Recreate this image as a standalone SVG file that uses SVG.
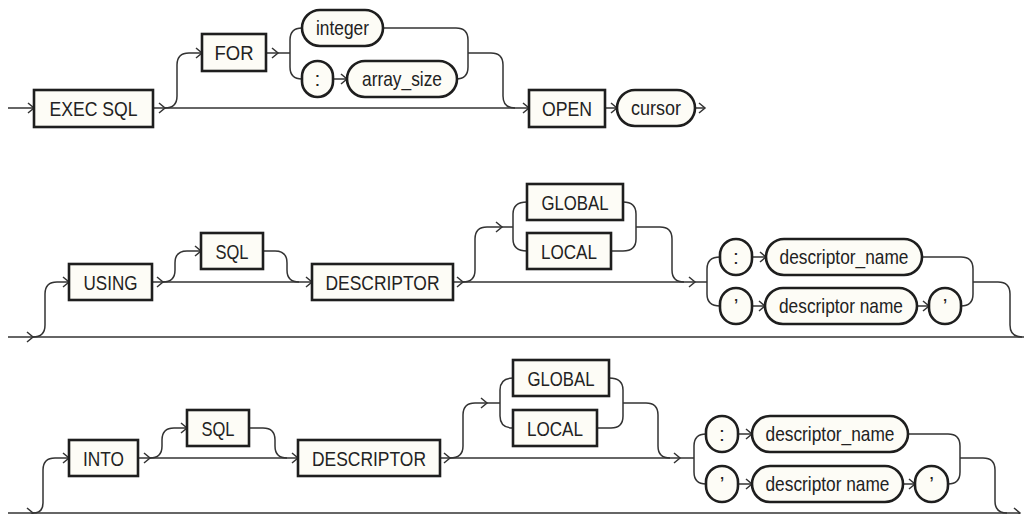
<svg xmlns="http://www.w3.org/2000/svg" xmlns:xlink="http://www.w3.org/1999/xlink" width="1024" height="514" viewBox="0 0 1024 514">
<style>
.b{fill:#fdfcf6;stroke:#1e1e1e;stroke-width:2.6}
.t{font-family:"Liberation Sans Narrow","Liberation Sans",Arial,sans-serif;font-size:21px;fill:#222;text-anchor:middle}
.c path{fill:none;stroke:#333;stroke-width:1.5}
.ch{fill:none;stroke:#333;stroke-width:1.5}
</style>
<defs>
<path id="ch" class="ch" d="M-6,-5 L0,0 L-6,5"/>
</defs>
<rect width="1024" height="514" fill="#ffffff"/>
<g class="c" id="connectors">
<!-- row 1 -->
<path d="M8,108 L34,108"/>
<path d="M153,108 L529,108"/>
<path d="M165,108 Q177,108 177,96 L177,65 Q177,53 189,53 L202,53"/>
<path d="M266,53 L290,53"/>
<path d="M302,28 Q290,28 290,40 L290,67 Q290,79 302,79"/>
<path d="M333,79 L347,79"/>
<path d="M383,28 L456,28 Q468,28 468,40 L468,67 Q468,79 456,79 L457,79"/>
<path d="M468,53 L491,53 Q503,53 503,65 L503,96 Q503,108 515,108"/>
<path d="M605,108 L617,108"/>
<path d="M695,108 L705,108"/>
<!-- row 2 -->
<path d="M8,337 L1024,337"/>
<path d="M33,337 Q45,337 45,325 L45,294 Q45,282 57,282 L69,282"/>
<path d="M152,282 L312,282"/>
<path d="M163,282 Q175,282 175,270 L175,263 Q175,251 187,251 L201,251"/>
<path d="M263,251 L275,251 Q287,251 287,263 L287,270 Q287,282 299,282"/>
<path d="M453,282 L707,282"/>
<path d="M463,282 Q475,282 475,270 L475,239 Q475,227 487,227 L513,227"/>
<path d="M527,202 Q513,202 513,214 L513,239 Q513,251 527,251"/>
<path d="M623,202 Q636,202 636,214 L636,239 Q636,251 623,251 L611,251"/>
<path d="M636,227 L660,227 Q672,227 672,239 L672,270 Q672,282 684,282"/>
<path d="M720,257 Q707,257 707,269 L707,294 Q707,306 720,306"/>
<path d="M752,257 L766,257"/>
<path d="M752,306 L765,306"/>
<path d="M917,306 L929,306"/>
<path d="M922,257 L961,257 Q973,257 973,269 L973,294 Q973,306 961,306"/>
<path d="M973,282 L998,282 Q1010,282 1010,294 L1010,325 Q1010,337 1022,337"/>
<!-- row 3 -->
<path d="M8,513 L1020,513"/>
<path d="M33,513 Q43,513 43,503 L43,470 Q43,458 55,458 L69,458"/>
<path d="M138,458 L298,458"/>
<path d="M150,458 Q162,458 162,446 L162,440 Q162,428 174,428 L187,428"/>
<path d="M249,428 L263,428 Q275,428 275,440 L275,446 Q275,458 287,458"/>
<path d="M440,458 L694,458"/>
<path d="M450,458 Q463,458 463,446 L463,415 Q463,403 475,403 L500,403"/>
<path d="M513,378 Q500,378 500,390 L500,416 Q500,428 513,428"/>
<path d="M609,378 Q623,378 623,390 L623,416 Q623,428 611,428 L597,428"/>
<path d="M623,403 L646,403 Q658,403 658,415 L658,446 Q658,458 670,458"/>
<path d="M706,434 Q694,434 694,446 L694,472 Q694,484 706,484"/>
<path d="M738,434 L752,434"/>
<path d="M738,484 L752,484"/>
<path d="M903,484 L915,484"/>
<path d="M908,434 L948,434 Q960,434 960,446 L960,472 Q960,484 948,484"/>
<path d="M960,458 L983,458 Q995,458 995,470 L995,501 Q995,513 1007,513"/>
<!-- arrowheads -->
<use xlink:href="#ch" x="34" y="108"/>
<use xlink:href="#ch" x="165" y="108"/>
<use xlink:href="#ch" x="202" y="53"/>
<use xlink:href="#ch" x="278" y="53"/>
<use xlink:href="#ch" x="347" y="79"/>
<use xlink:href="#ch" x="529" y="108"/>
<use xlink:href="#ch" x="617" y="108"/>
<use xlink:href="#ch" x="705" y="108"/>
<use xlink:href="#ch" x="33" y="337"/>
<use xlink:href="#ch" x="69" y="282"/>
<use xlink:href="#ch" x="163" y="282"/>
<use xlink:href="#ch" x="201" y="251"/>
<use xlink:href="#ch" x="312" y="282"/>
<use xlink:href="#ch" x="463" y="282"/>
<use xlink:href="#ch" x="502" y="227"/>
<use xlink:href="#ch" x="695" y="282"/>
<use xlink:href="#ch" x="766" y="257"/>
<use xlink:href="#ch" x="765" y="306"/>
<use xlink:href="#ch" x="929" y="306"/>
<use xlink:href="#ch" x="33" y="513"/>
<use xlink:href="#ch" x="69" y="458"/>
<use xlink:href="#ch" x="150" y="458"/>
<use xlink:href="#ch" x="187" y="428"/>
<use xlink:href="#ch" x="298" y="458"/>
<use xlink:href="#ch" x="450" y="458"/>
<use xlink:href="#ch" x="487" y="403"/>
<use xlink:href="#ch" x="680" y="458"/>
<use xlink:href="#ch" x="752" y="434"/>
<use xlink:href="#ch" x="752" y="484"/>
<use xlink:href="#ch" x="915" y="484"/>
<use xlink:href="#ch" x="1020" y="513"/>
</g>
<!-- row 1 nodes -->
<g id="exec-sql"><rect class="b" x="34" y="90" width="119" height="37"/><text class="t" x="93.5" y="116" textLength="88" lengthAdjust="spacingAndGlyphs">EXEC SQL</text></g>
<g id="for"><rect class="b" x="202" y="34" width="64" height="37"/><text class="t" x="234" y="60" textLength="39" lengthAdjust="spacingAndGlyphs">FOR</text></g>
<g id="integer"><rect class="b" x="302" y="10" width="81" height="36" rx="18"/><text class="t" x="342.5" y="35" textLength="53" lengthAdjust="spacingAndGlyphs">integer</text></g>
<g id="colon1"><rect class="b" x="302" y="61" width="31" height="36" rx="15.5"/><text class="t" x="317.5" y="86">:</text></g>
<g id="array-size"><rect class="b" x="347" y="61" width="110" height="36" rx="18"/><text class="t" x="402" y="86" textLength="80" lengthAdjust="spacingAndGlyphs">array_size</text></g>
<g id="open"><rect class="b" x="529" y="90" width="76" height="37"/><text class="t" x="567" y="116" textLength="50" lengthAdjust="spacingAndGlyphs">OPEN</text></g>
<g id="cursor"><rect class="b" x="617" y="90" width="78" height="36" rx="18"/><text class="t" x="656" y="115" textLength="50" lengthAdjust="spacingAndGlyphs">cursor</text></g>
<!-- row 2 nodes -->
<g id="using"><rect class="b" x="69" y="264" width="83" height="36"/><text class="t" x="110.5" y="289.5" textLength="54" lengthAdjust="spacingAndGlyphs">USING</text></g>
<g id="sql2"><rect class="b" x="201" y="233" width="62" height="36"/><text class="t" x="232" y="258.5" textLength="33" lengthAdjust="spacingAndGlyphs">SQL</text></g>
<g id="descriptor2"><rect class="b" x="312" y="264" width="141" height="36"/><text class="t" x="382.5" y="289.5" textLength="114" lengthAdjust="spacingAndGlyphs">DESCRIPTOR</text></g>
<g id="global2"><rect class="b" x="527" y="184" width="96" height="36"/><text class="t" x="575" y="209.5" textLength="67" lengthAdjust="spacingAndGlyphs">GLOBAL</text></g>
<g id="local2"><rect class="b" x="527" y="233" width="84" height="36"/><text class="t" x="569" y="258.5" textLength="56" lengthAdjust="spacingAndGlyphs">LOCAL</text></g>
<g id="colon2"><rect class="b" x="720" y="239" width="32" height="36" rx="16"/><text class="t" x="736" y="264">:</text></g>
<g id="descriptor-name2a"><rect class="b" x="766" y="239" width="156" height="36" rx="18"/><text class="t" x="844" y="264" textLength="129" lengthAdjust="spacingAndGlyphs">descriptor_name</text></g>
<g id="quote2a"><rect class="b" x="720" y="288" width="32" height="36" rx="16"/><text class="t" x="736" y="313">’</text></g>
<g id="descriptor-name2b"><rect class="b" x="765" y="288" width="152" height="36" rx="18"/><text class="t" x="841" y="313" textLength="124" lengthAdjust="spacingAndGlyphs">descriptor name</text></g>
<g id="quote2b"><rect class="b" x="929" y="288" width="32" height="36" rx="16"/><text class="t" x="945" y="313">’</text></g>
<!-- row 3 nodes -->
<g id="into"><rect class="b" x="69" y="440" width="69" height="36"/><text class="t" x="103.5" y="465.5" textLength="41" lengthAdjust="spacingAndGlyphs">INTO</text></g>
<g id="sql3"><rect class="b" x="187" y="410" width="62" height="36"/><text class="t" x="218" y="435.5" textLength="33" lengthAdjust="spacingAndGlyphs">SQL</text></g>
<g id="descriptor3"><rect class="b" x="298" y="440" width="142" height="36"/><text class="t" x="369" y="465.5" textLength="114" lengthAdjust="spacingAndGlyphs">DESCRIPTOR</text></g>
<g id="global3"><rect class="b" x="513" y="360" width="96" height="36"/><text class="t" x="561" y="385.5" textLength="67" lengthAdjust="spacingAndGlyphs">GLOBAL</text></g>
<g id="local3"><rect class="b" x="513" y="410" width="84" height="36"/><text class="t" x="555" y="435.5" textLength="56" lengthAdjust="spacingAndGlyphs">LOCAL</text></g>
<g id="colon3"><rect class="b" x="706" y="416" width="32" height="36" rx="16"/><text class="t" x="722" y="441">:</text></g>
<g id="descriptor-name3a"><rect class="b" x="752" y="416" width="156" height="36" rx="18"/><text class="t" x="830" y="441" textLength="129" lengthAdjust="spacingAndGlyphs">descriptor_name</text></g>
<g id="quote3a"><rect class="b" x="706" y="466" width="32" height="36" rx="16"/><text class="t" x="722" y="491">’</text></g>
<g id="descriptor-name3b"><rect class="b" x="752" y="466" width="151" height="36" rx="18"/><text class="t" x="827.5" y="491" textLength="124" lengthAdjust="spacingAndGlyphs">descriptor name</text></g>
<g id="quote3b"><rect class="b" x="915" y="466" width="33" height="36" rx="16.5"/><text class="t" x="931.5" y="491">’</text></g>
</svg>
